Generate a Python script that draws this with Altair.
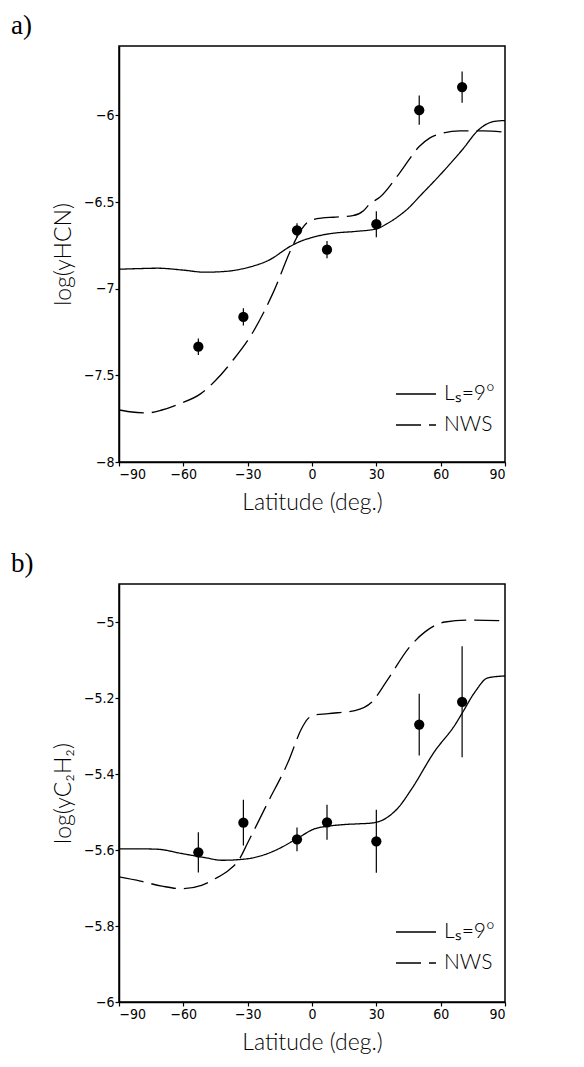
import altair as alt
import pandas as pd

# --- observations (latitude, log mixing ratio, 1-sigma) ---
obs_lat = [-53, -32, -7, 7, 30, 50, 70]
hcn_obs = [-7.335, -7.163, -6.663, -6.775, -6.628, -5.970, -5.837]
hcn_err = [0.048, 0.050, 0.040, 0.050, 0.075, 0.085, 0.090]
c2h2_obs = [-5.606, -5.528, -5.572, -5.527, -5.577, -5.270, -5.210]
c2h2_err = [0.053, 0.060, 0.031, 0.046, 0.083, 0.081, 0.146]

# --- model profiles ---
hcn_ls9_lat = [-90, -80, -72, -60, -50, -40, -30, -20, -10, -5, 0, 5, 10, 20, 30,
               35, 40, 45, 50, 60, 70, 78, 85, 90]
hcn_ls9 = [-6.888, -6.884, -6.882, -6.893, -6.905, -6.900, -6.878, -6.835, -6.755,
           -6.725, -6.705, -6.690, -6.680, -6.670, -6.655, -6.625, -6.585, -6.535,
           -6.470, -6.340, -6.200, -6.080, -6.035, -6.030]
hcn_nws_lat = [-90, -85, -77, -70, -62, -52, -45, -37, -27.5, -18, -9, -5, -1, 5, 10,
               19, 24, 27, 31.6, 41, 50, 55, 61, 69, 80, 90]
hcn_nws = [-7.700, -7.710, -7.717, -7.700, -7.665, -7.607, -7.530, -7.415, -7.250,
           -7.020, -6.752, -6.660, -6.608, -6.592, -6.588, -6.579, -6.550, -6.510,
           -6.473, -6.330, -6.180, -6.130, -6.103, -6.090, -6.090, -6.097]

c2h2_ls9_lat = [-90, -80, -72, -61, -50, -42, -30, -22, -16, -7, 1.3, 8, 15, 22, 28,
                34, 40, 46.5, 57, 67, 70, 76, 82, 90]
c2h2_ls9 = [-5.597, -5.597, -5.598, -5.609, -5.620, -5.627, -5.623, -5.612, -5.598,
            -5.570, -5.544, -5.537, -5.533, -5.531, -5.529, -5.518, -5.490, -5.439,
            -5.342, -5.268, -5.240, -5.184, -5.147, -5.142]
c2h2_nws_lat = [-90, -80, -70, -61, -51.5, -45, -39, -34, -29.8, -20.5, -11.1, -4.9,
                -2, 0.2, 7.6, 20, 27.8, 35.6, 44.9, 52.7, 62, 72.9, 90]
c2h2_nws = [-5.671, -5.682, -5.695, -5.702, -5.693, -5.675, -5.654, -5.625, -5.579,
            -5.474, -5.368, -5.281, -5.255, -5.246, -5.241, -5.233, -5.211, -5.149,
            -5.070, -5.026, -5.000, -4.995, -4.997]

series_names = ["L\u209b=9\u00b0", "NWS"]
lat_ticks = [-90, -60, -30, 0, 30, 60, 90]

LABEL_FONT = "Liberation Sans Narrow, DejaVu Sans Condensed, Liberation Sans"
TITLE_FONT = "Lato, DejaVu Sans"


def model_frame(lat_a, val_a, lat_b, val_b):
    a = pd.DataFrame({"lat": lat_a, "val": val_a, "series": series_names[0]})
    b = pd.DataFrame({"lat": lat_b, "val": val_b, "series": series_names[1]})
    return pd.concat([a, b], ignore_index=True)


def obs_frame(vals, errs):
    return pd.DataFrame({
        "lat": obs_lat,
        "val": vals,
        "lo": [v - e for v, e in zip(vals, errs)],
        "hi": [v + e for v, e in zip(vals, errs)],
    })


def panel(label, ytitle, ydomain, yticks, models, obs, height):
    xscale = alt.Scale(domain=[-90, 90], nice=False, zero=False)
    yscale = alt.Scale(domain=ydomain, nice=False, zero=False)
    xaxis = alt.Axis(values=lat_ticks, title="Latitude (deg.)", format="d",
                     labelOverlap=False)
    yaxis = alt.Axis(values=yticks, title=ytitle, format="~g", labelOverlap=False)

    lines = alt.Chart(models).mark_line(
        color="black", strokeWidth=1.3, interpolate="monotone"
    ).encode(
        x=alt.X("lat:Q", scale=xscale, axis=xaxis),
        y=alt.Y("val:Q", scale=yscale, axis=yaxis),
        strokeDash=alt.StrokeDash(
            "series:N",
            scale=alt.Scale(domain=series_names, range=[[1, 0], [25, 8]]),
            legend=alt.Legend(
                title=None, orient="none", legendX=276, legendY=327,
                symbolType="stroke", symbolSize=1600, symbolStrokeWidth=1.3,
                symbolStrokeColor="black", labelFont=TITLE_FONT,
                labelFontWeight=300, labelFontSize=21, labelColor="black",
                labelOffset=7, rowPadding=-7,
            ),
        ),
        detail="series:N",
    )

    bars = alt.Chart(obs).mark_rule(color="black", strokeWidth=1.2).encode(
        x="lat:Q", y="lo:Q", y2="hi:Q"
    )
    dots = alt.Chart(obs).mark_circle(color="black", opacity=1, size=105).encode(
        x="lat:Q", y="val:Q"
    )

    return alt.layer(lines, bars, dots).properties(
        width=386,
        height=height,
        title=alt.TitleParams(
            label, anchor="start", frame="group", font="Liberation Serif",
            fontSize=27, fontWeight="normal", color="black", dx=-108, offset=6,
        ),
    )


top = panel(
    "a)", "log(yHCN)", [-8, -5.6], [-8, -7.5, -7, -6.5, -6],
    model_frame(hcn_ls9_lat, hcn_ls9, hcn_nws_lat, hcn_nws),
    obs_frame(hcn_obs, hcn_err), 416,
)
bottom = panel(
    "b)", "log(yC\u2082H\u2082)", [-6, -4.9], [-6, -5.8, -5.6, -5.4, -5.2, -5],
    model_frame(c2h2_ls9_lat, c2h2_ls9, c2h2_nws_lat, c2h2_nws),
    obs_frame(c2h2_obs, c2h2_err), 418,
)

chart = alt.vconcat(top, bottom, spacing=34).resolve_legend(
    strokeDash="independent"
).resolve_scale(y="independent", strokeDash="independent").configure(
    padding={"left": 10, "top": 11, "right": 0, "bottom": 0},
    background="white",
).configure_view(
    stroke="black", strokeWidth=1.5
).configure_axis(
    grid=False, domainColor="black", domainWidth=1.5, tickColor="black",
    tickSize=4, tickWidth=1.2, labelFont=LABEL_FONT, labelFontSize=14,
    labelColor="black", labelPadding=1, titleFont=TITLE_FONT,
    titleFontWeight=300, titleFontSize=23, titleColor="black",
).configure_axisY(
    titlePadding=8
).configure_axisX(
    titlePadding=10
)

chart.save("out.html", embed_options={"renderer": "svg", "actions": False})
